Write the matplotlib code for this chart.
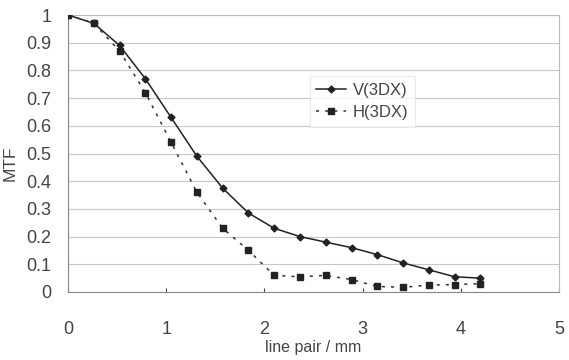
import matplotlib
matplotlib.use("Agg")
import matplotlib.pyplot as plt
import numpy as np

plt.rcParams['font.family'] = ['Liberation Sans', 'DejaVu Sans']

lp = [0.0, 0.2625, 0.525, 0.7875, 1.05, 1.3125, 1.575, 1.8375, 2.1, 2.3625, 2.625,
      2.8875, 3.15, 3.4125, 3.675, 3.9375, 4.2]
v_mtf = [1.0, 0.97, 0.89, 0.77, 0.63, 0.49, 0.375, 0.285, 0.23, 0.20, 0.18,
         0.16, 0.135, 0.105, 0.08, 0.055, 0.05]
h_mtf = [1.0, 0.97, 0.87, 0.72, 0.54, 0.36, 0.23, 0.15, 0.06, 0.055, 0.06,
         0.045, 0.02, 0.017, 0.025, 0.027, 0.03]
x_ticks = [0, 1, 2, 3, 4, 5]
y_ticks = [0, 0.1, 0.2, 0.3, 0.4, 0.5, 0.6, 0.7, 0.8, 0.9, 1]
y_labels = ['0', '0.1', '0.2', '0.3', '0.4', '0.5', '0.6', '0.7', '0.8', '0.9', '1']

fig = plt.figure(figsize=(5.69, 3.6), dpi=100)
ax = fig.add_axes([68/569, (360-292)/360, (559-68)/569, (292-15)/360])

tc = '#444444'
ax.plot(lp, v_mtf, '-', color='#222222', lw=1.1, marker='D', ms=3.5,
        markerfacecolor='#222222', label='V(3DX)', zorder=3)
ax.plot(lp, h_mtf, linestyle=(0, (2, 4)), color='#333333', lw=1.1, marker='s', ms=5,
        markerfacecolor='#222222', markeredgecolor='#222222', label='H(3DX)', zorder=3)

ax.set_xlim(0, 5)
ax.set_ylim(0, 1)
ax.set_xticks(x_ticks)
ax.set_yticks(y_ticks)
ax.set_yticklabels(y_labels)
ax.grid(axis='y', color='#c8c8c8', lw=0.8)
ax.set_axisbelow(True)
for s in ['top', 'right']:
    ax.spines[s].set_color('#bbbbbb')
for s in ['left', 'bottom']:
    ax.spines[s].set_color('#888888')
ax.tick_params(axis='x', direction='in', length=3, pad=21, labelsize=13, colors=tc)
ax.tick_params(axis='y', length=0, pad=12, labelsize=13, colors=tc)
ax.set_xlabel('line pair / mm', fontsize=11.5, color=tc, labelpad=1)
ax.set_ylabel('MTF', fontsize=12.5, color=tc)
ax.yaxis.set_label_coords(-0.102, 0.466)

leg = ax.legend(loc='upper left', bbox_to_anchor=(0.475, 0.81), fontsize=12,
                frameon=True, fancybox=False, handlelength=1.8, borderpad=0.4,
                labelspacing=0.45, handletextpad=0.4)
leg.get_frame().set_edgecolor('#e6e6e6')
leg.get_frame().set_linewidth(0.8)
for t in leg.get_texts():
    t.set_color(tc)

fig.savefig('out.png', dpi=100)
